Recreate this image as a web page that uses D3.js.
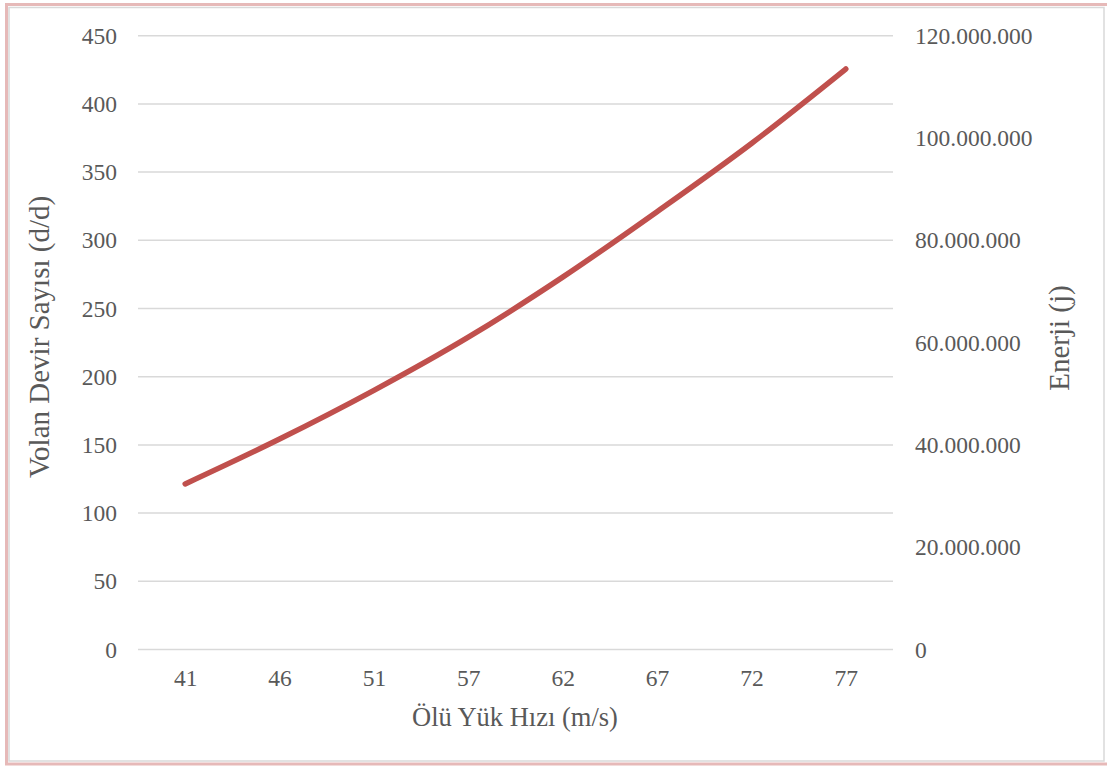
<!DOCTYPE html>
<html>
<head>
<meta charset="utf-8">
<script src="https://cdn.jsdelivr.net/npm/d3@7/dist/d3.min.js"></script>
<style>
  html, body { margin: 0; padding: 0; background: #fff; }
  svg { display: block; }
  text { font-family: "Liberation Serif", "Times New Roman", serif; fill: #595959; }
</style>
</head>
<body>
<svg id="chart" width="1107" height="766"></svg>
<script>
// Dead-load speed categories (m/s)
const speeds = ["41", "46", "51", "57", "62", "67", "72", "77"];
// Flywheel revolutions (d/d) per speed
const flywheelRev = [121.4, 154.3, 190, 229, 273, 321, 371, 425.6];
// Left axis ticks
const leftTicks = [0, 50, 100, 150, 200, 250, 300, 350, 400, 450];
// Right axis (energy, j) ticks
const rightTicks = [0, 20000000, 40000000, 60000000, 80000000, 100000000, 120000000];

const W = 1107, H = 766;
const plot = { left: 138, right: 893, top: 35.7, bottom: 649.5 };
const tickFont = "23.5px";

const svg = d3.select("#chart");

// frame
svg.append("rect").attr("x", 6.5).attr("y", 4.5).attr("width", W).attr("height", 759.5)
  .attr("fill", "none").attr("stroke", "#e6b9b8").attr("stroke-width", 3);
svg.append("rect").attr("x", 9).attr("y", 7.5).attr("width", 1095).attr("height", 753.5)
  .attr("fill", "#fff").attr("stroke", "#d9d9d9").attr("stroke-width", 1.5);

const x = d3.scalePoint().domain(speeds).range([plot.left, plot.right]).padding(0.5);
const yL = d3.scaleLinear().domain([0, 450]).range([plot.bottom, plot.top]);
const yR = d3.scaleLinear().domain([0, 120000000]).range([plot.bottom, plot.top]);

const fmtDots = v => d3.format(",")(v).replace(/,/g, ".");

// gridlines
svg.append("g").selectAll("line").data(leftTicks).join("line")
  .attr("x1", plot.left).attr("x2", plot.right)
  .attr("y1", d => yL(d)).attr("y2", d => yL(d))
  .attr("stroke", "#d9d9d9").attr("stroke-width", 1.5);

// left axis
const gL = svg.append("g").attr("transform", `translate(${plot.left},0)`)
  .call(d3.axisLeft(yL).tickValues(leftTicks).tickSize(0).tickPadding(21));
gL.select(".domain").remove();
gL.selectAll("text").style("font-size", tickFont).style("font-family", "Liberation Serif").attr("fill", "#595959");

// right axis
const gR = svg.append("g").attr("transform", `translate(${plot.right},0)`)
  .call(d3.axisRight(yR).tickValues(rightTicks).tickSize(0).tickPadding(22).tickFormat(fmtDots));
gR.select(".domain").remove();
gR.selectAll("text").style("font-size", tickFont).style("font-family", "Liberation Serif").attr("fill", "#595959");

// bottom axis
const gX = svg.append("g").attr("transform", `translate(0,${plot.bottom})`)
  .call(d3.axisBottom(x).tickSize(0).tickPadding(20));
gX.select(".domain").remove();
gX.selectAll("text").style("font-size", tickFont).style("font-family", "Liberation Serif").attr("fill", "#595959");

// axis titles
svg.append("text").attr("x", 515).attr("y", 726).attr("text-anchor", "middle")
  .style("font-size", "26.5px").text("Ölü Yük Hızı (m/s)");
svg.append("text").attr("transform", "translate(49,337) rotate(-90)").attr("text-anchor", "middle")
  .style("font-size", "29px").text("Volan Devir Sayısı (d/d)");
svg.append("text").attr("transform", "translate(1069,338) rotate(-90)").attr("text-anchor", "middle")
  .style("font-size", "29px").text("Enerji (j)");

// series line
const line = d3.line().x((d, i) => x(speeds[i])).y(d => yL(d)).curve(d3.curveMonotoneX);
svg.append("path").datum(flywheelRev).attr("d", line)
  .attr("fill", "none").attr("stroke", "#c0504d").attr("stroke-width", 5.5)
  .attr("stroke-linecap", "round").attr("stroke-linejoin", "round");
</script>
</body>
</html>
